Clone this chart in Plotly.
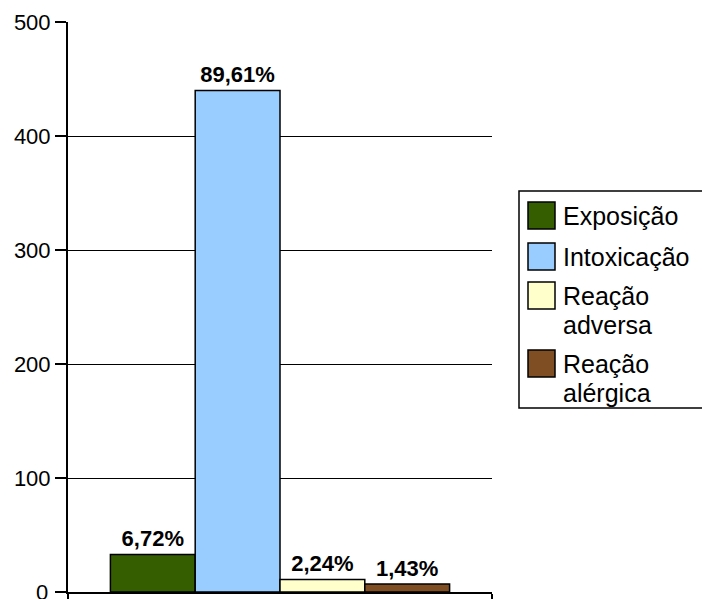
import plotly.graph_objects as go

categories = ["Exposição", "Intoxicação", "Reação<br>adversa", "Reação<br>alérgica"]
values = [33, 440, 11, 7]
pct_labels = ["6,72%", "89,61%", "2,24%", "1,43%"]
colors = ["#355E00", "#99CCFF", "#FFFFCC", "#7F4E22"]
y_ticks = [0, 100, 200, 300, 400, 500]

W, H = 702, 599
ML, MR, MT, MB = 68, 210, 22, 7
PW = W - ML - MR
PH = H - MT - MB
FONT = "Liberation Sans, Arial, sans-serif"
TICK_FS = 22


def px(x):
    return (x - ML) / PW


def py(y):
    return (H - MB - y) / PH


fig = go.Figure()
for name, v, t, c in zip(categories, values, pct_labels, colors):
    fig.add_trace(go.Bar(
        x=["A"], y=[v], name=name.replace("<br>", " "),
        marker=dict(color=c, line=dict(color="black", width=1.5)),
        text=[t], textposition="outside",
        textfont=dict(family=FONT, size=22, color="black", weight="bold"),
        cliponaxis=False, showlegend=False,
    ))

shapes = []
annotations = []
# legend box
shapes.append(dict(type="rect", xref="paper", yref="paper",
                   x0=px(519), x1=px(705), y0=py(408), y1=py(191),
                   line=dict(color="black", width=1.5), fillcolor="white", layer="above"))
sw_tops = [202, 243, 282, 350]
for name, c, top in zip(categories, colors, sw_tops):
    shapes.append(dict(type="rect", xref="paper", yref="paper",
                       x0=px(528), x1=px(555), y0=py(top + 27), y1=py(top),
                       line=dict(color="black", width=1.5), fillcolor=c, layer="above"))
    lines = name.split("<br>")
    for i, ln in enumerate(lines):
        annotations.append(dict(xref="paper", yref="paper", x=px(561), y=py(top + 14 + i * 29),
                                text=ln, showarrow=False, xanchor="left", yanchor="middle",
                                font=dict(family=FONT, size=25, color="black")))

# the bottom tick label sits partly below the page edge, as in the reference
annotations.append(dict(xref="paper", yref="y", x=px(50), y=y_ticks[0], text=str(y_ticks[0]),
                        showarrow=False, xanchor="right", yanchor="middle",
                        font=dict(family=FONT, size=TICK_FS, color="black")))

fig.update_layout(
    width=W, height=H,
    margin=dict(l=ML, r=MR, t=MT, b=MB, pad=0, autoexpand=False),
    paper_bgcolor="white", plot_bgcolor="white",
    barmode="group", bargap=0.2, bargroupgap=0,
    showlegend=False,
    shapes=shapes, annotations=annotations,
    xaxis=dict(type="category", showticklabels=False, showline=True, linecolor="black", linewidth=2,
               ticks="outside", tickson="boundaries", ticklen=7, tickcolor="black", tickwidth=2,
               showgrid=False, zeroline=False, automargin=False),
    yaxis=dict(range=[0, 500], tickvals=y_ticks, showline=True, linecolor="black", linewidth=2,
               ticks="outside", ticklen=11, tickcolor="black", tickwidth=2,
               showgrid=True, gridcolor="black", gridwidth=1.3, zeroline=False, automargin=False,
               tickfont=dict(family=FONT, size=TICK_FS, color="black"), ticklabelstandoff=0),
)

fig.write_html("out.html")
